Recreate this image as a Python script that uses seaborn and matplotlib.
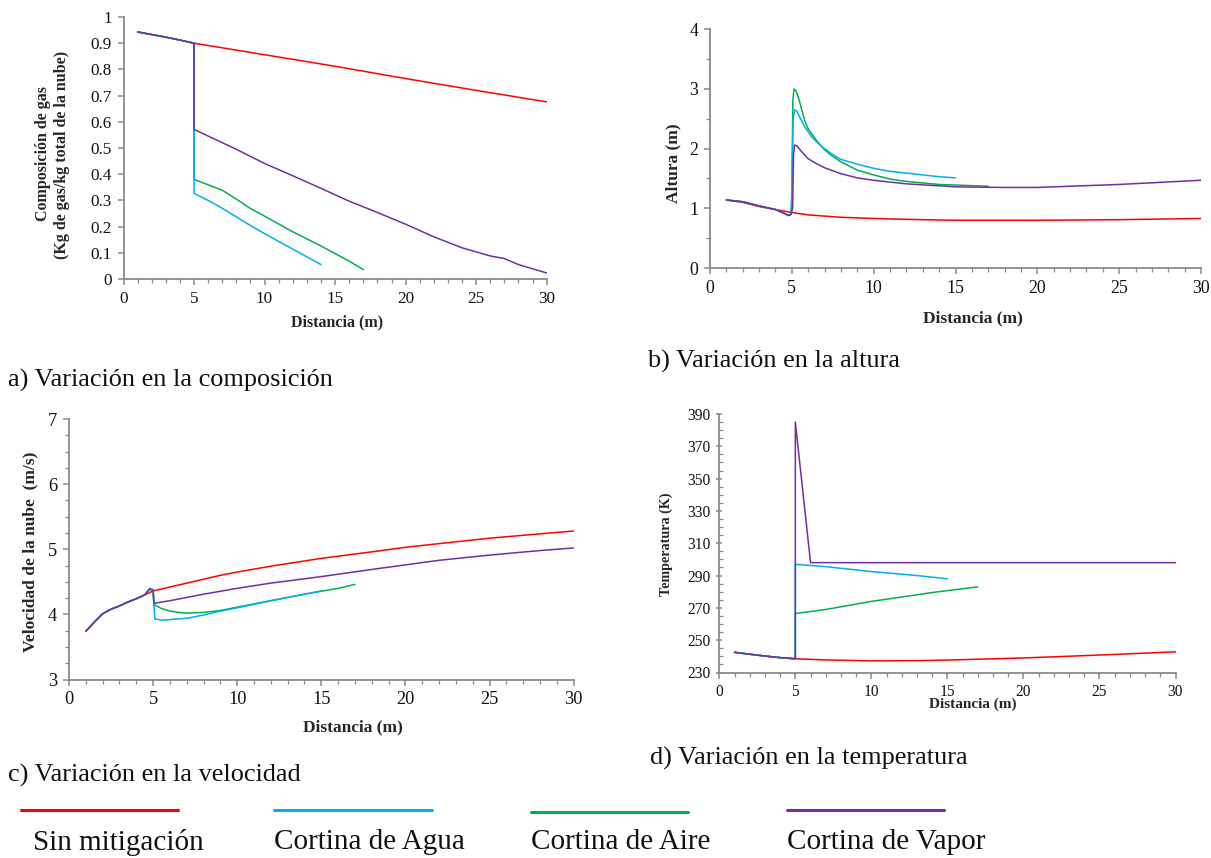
import numpy as np
import pandas as pd
import seaborn as sns
import matplotlib
matplotlib.use("Agg")
import matplotlib.pyplot as plt
from matplotlib.lines import Line2D
from matplotlib.ticker import MultipleLocator, FixedLocator, FuncFormatter

sns.set_style("white")
plt.rcParams["font.family"] = ["Liberation Serif", "DejaVu Serif"]

W, H = 1211, 858

# ---------------- series names and colours ----------------
series_names = ["Sin mitigación", "Cortina de Agua", "Cortina de Aire", "Cortina de Vapor"]
series_colors = ["#FF0000", "#00B0F0", "#00B050", "#7030A0"]

# ---------------- a) composición ----------------
comp_x_pre = [1, 2, 3, 4, 5]
comp_y_pre = [0.943, 0.933, 0.923, 0.912, 0.900]
comp_sin_x = [5, 10, 15, 20, 25, 30]
comp_sin_y = [0.900, 0.856, 0.812, 0.765, 0.720, 0.676]
comp_agua_x = [5, 5, 6, 7, 8, 9, 10, 12, 14]
comp_agua_y = [0.900, 0.327, 0.300, 0.270, 0.237, 0.204, 0.173, 0.114, 0.055]
comp_aire_x = [5, 5, 7, 8, 9, 10, 12, 14, 16, 17]
comp_aire_y = [0.900, 0.380, 0.339, 0.305, 0.269, 0.240, 0.180, 0.126, 0.068, 0.036]
comp_vapor_x = [5, 5, 8, 10, 12, 14, 16, 18, 20, 22, 24, 26, 27, 28, 30]
comp_vapor_y = [0.900, 0.571, 0.495, 0.441, 0.394, 0.346, 0.297, 0.254, 0.209,
                0.161, 0.119, 0.088, 0.078, 0.055, 0.023]

# ---------------- b) altura ----------------
alt_sin_x = [1, 2, 3, 4, 5, 6, 7, 8, 10, 12, 15, 18, 20, 25, 30]
alt_sin_y = [1.14, 1.10, 1.03, 0.98, 0.93, 0.89, 0.87, 0.85, 0.83, 0.815, 0.80, 0.80, 0.80, 0.81, 0.83]
alt_x_pre = [1, 2, 3, 4, 4.5, 4.8, 4.95]
alt_y_pre = [1.14, 1.11, 1.04, 0.98, 0.92, 0.88, 0.90]
alt_agua_x = [5.0, 5.08, 5.17, 5.3, 5.5, 5.8, 6.2, 6.6, 7, 7.5, 8, 9, 10, 11, 12, 13, 14, 15]
alt_agua_y = [1.30, 2.50, 2.65, 2.63, 2.52, 2.36, 2.20, 2.09, 2.00, 1.90, 1.82, 1.74, 1.67,
              1.62, 1.59, 1.56, 1.53, 1.51]
alt_aire_x = [5.0, 5.06, 5.13, 5.25, 5.4, 5.6, 5.8, 6, 6.5, 7, 7.5, 8, 9, 10, 11, 12, 14, 17]
alt_aire_y = [1.20, 2.80, 3.00, 2.97, 2.86, 2.66, 2.46, 2.33, 2.14, 1.98, 1.87, 1.78, 1.64,
              1.56, 1.49, 1.45, 1.40, 1.37]
alt_vapor_x = [5.05, 5.1, 5.17, 5.3, 5.5, 5.8, 6, 6.5, 7, 8, 9, 10, 12, 15, 18, 20, 25, 30]
alt_vapor_y = [1.00, 1.90, 2.06, 2.05, 1.98, 1.89, 1.83, 1.75, 1.68, 1.58, 1.51, 1.47, 1.41,
               1.36, 1.35, 1.35, 1.40, 1.47]

# ---------------- c) velocidad ----------------
vel_x_pre = [1, 1.5, 2, 2.5, 3, 3.5, 4, 4.5]
vel_y_pre = [3.74, 3.88, 4.01, 4.08, 4.13, 4.19, 4.24, 4.30]
vel_sin_x = [5, 6, 7, 8, 9, 10, 12, 15, 18, 20, 25, 30]
vel_sin_y = [4.36, 4.42, 4.48, 4.54, 4.60, 4.65, 4.74, 4.86, 4.96, 5.03, 5.17, 5.28]
vel_agua_x = [4.8, 5.0, 5.1, 5.5, 6, 7, 8, 9, 10, 12, 14, 15]
vel_agua_y = [4.40, 4.38, 3.93, 3.91, 3.92, 3.94, 3.99, 4.05, 4.10, 4.21, 4.31, 4.36]
vel_aire_x = [4.8, 5.0, 5.05, 5.5, 6, 6.5, 7, 8, 9, 10, 12, 14, 16, 17]
vel_aire_y = [4.39, 4.37, 4.15, 4.09, 4.05, 4.03, 4.02, 4.03, 4.06, 4.11, 4.21, 4.31, 4.40, 4.46]
vel_vapor_x = [4.8, 5.0, 5.05, 6, 8, 10, 12, 15, 18, 20, 22, 25, 28, 30]
vel_vapor_y = [4.39, 4.37, 4.17, 4.21, 4.31, 4.40, 4.48, 4.58, 4.69, 4.76, 4.83, 4.91, 4.98, 5.02]

# ---------------- d) temperatura ----------------
temp_x_pre = [1, 2, 3, 4, 5]
temp_y_pre = [242.5, 241.3, 240.2, 239.2, 238.5]
temp_sin_x = [5, 7, 10, 13, 15, 20, 25, 30]
temp_sin_y = [238.5, 237.8, 237.2, 237.3, 237.7, 239.0, 240.8, 242.8]
temp_agua_x = [5, 5, 7, 10, 13, 15]
temp_agua_y = [238.5, 297.0, 295.5, 292.5, 290.0, 288.0]
temp_aire_x = [5, 5, 7, 10, 14, 17]
temp_aire_y = [238.5, 266.5, 269.0, 274.0, 279.5, 283.0]
temp_vapor_x = [5, 5, 6, 30]
temp_vapor_y = [238.5, 385.0, 298.0, 298.0]

temp_ticks = [230, 250, 270, 290, 310, 330, 350, 370, 390]


def frame(xs, ys, name):
    return pd.DataFrame({"x": xs, "y": ys, "serie": name})


def build(pre_x, pre_y, sin, agua, aire, vapor):
    parts = [frame(pre_x + sin[0], pre_y + sin[1], series_names[0])]
    for name, (xs, ys) in zip(series_names[1:], [agua, aire, vapor]):
        parts.append(frame(pre_x + xs, pre_y + ys, name))
    return pd.concat(parts, ignore_index=True)


def rect(left, right, top, bottom):
    return [left / W, 1 - bottom / H, (right - left) / W, (bottom - top) / H]


def ftext(x, y, s, **kw):
    fig.text(x / W, 1 - y / H, s, ha=kw.pop("ha", "center"), va=kw.pop("va", "center"), **kw)


draw_order = [series_names[0], series_names[2], series_names[1], series_names[3]]
palette = dict(zip(series_names, series_colors))


def draw(ax, df):
    for name in draw_order:
        sub = df[df["serie"] == name]
        sns.lineplot(data=sub, x="x", y="y", sort=False, estimator=None,
                     color=palette[name], lw=1.1, ax=ax, legend=False)


def style(ax, ylim, ymajor, yminor, tick_size, yfmt, major_dir="out", yminor_dir="out"):
    ax.set_xlim(0, 30)
    ax.set_ylim(*ylim)
    ax.xaxis.set_major_locator(MultipleLocator(5))
    ax.xaxis.set_minor_locator(MultipleLocator(1))
    ax.yaxis.set_major_locator(ymajor)
    if yminor is not None:
        ax.yaxis.set_minor_locator(yminor)
    ax.yaxis.set_major_formatter(FuncFormatter(yfmt))
    for s in ["top", "right"]:
        ax.spines[s].set_visible(False)
    for s in ["left", "bottom"]:
        ax.spines[s].set_color("#8a8a8a")
        ax.spines[s].set_linewidth(1.3)
    ax.tick_params(which="major", direction="out", length=4.5, width=1.1,
                   color="#8a8a8a", labelsize=tick_size, labelcolor="#111111", pad=4,
                   bottom=True, left=True)
    ax.tick_params(axis="y", which="major", direction=major_dir)
    ax.tick_params(axis="x", which="minor", direction="out", length=3, width=0.9,
                   color="#8a8a8a", bottom=True)
    ax.tick_params(axis="y", which="minor", direction=yminor_dir, length=3, width=0.9,
                   color="#8a8a8a", left=True)
    ax.set_xlabel("")
    ax.set_ylabel("")
    ax.set_facecolor("white")


def fmt_comp(v, p):
    if abs(v) < 1e-9:
        return "0"
    if abs(v - 1) < 1e-9:
        return "1"
    return f"{v:.1f}"


def fmt_int(v, p):
    return f"{v:.0f}"


fig = plt.figure(figsize=(W / 100, H / 100), dpi=100)
fig.patch.set_facecolor("white")

# a) composición
ax_a = fig.add_axes(rect(123.5, 546.7, 17, 279))
df_a = build(comp_x_pre, comp_y_pre,
             (comp_sin_x, comp_sin_y), (comp_agua_x, comp_agua_y),
             (comp_aire_x, comp_aire_y), (comp_vapor_x, comp_vapor_y))
draw(ax_a, df_a)
style(ax_a, (0, 1), MultipleLocator(0.1), None, 12.3, fmt_comp)
ftext(337, 322, "Distancia (m)", fontsize=11.5, fontweight="bold")
ftext(43, 154, "Composición de gas", fontsize=11.5, fontweight="bold", rotation=90)
ftext(62, 155, "(Kg de gas/kg total de la nube)", fontsize=11.5, fontweight="bold", rotation=90)

# b) altura
ax_b = fig.add_axes(rect(710, 1201, 29.3, 268))
df_b = build([], [], (alt_sin_x, alt_sin_y),
             (alt_x_pre + alt_agua_x, alt_y_pre + alt_agua_y),
             (alt_x_pre + alt_aire_x, alt_y_pre + alt_aire_y),
             (alt_x_pre + alt_vapor_x, alt_y_pre + alt_vapor_y))
draw(ax_b, df_b)
style(ax_b, (0, 4), MultipleLocator(1), MultipleLocator(0.5), 12.8, fmt_int)
ftext(973, 318, "Distancia (m)", fontsize=12.5, fontweight="bold")
ftext(673, 163, "Altura (m)", fontsize=12.5, fontweight="bold", rotation=90)

# c) velocidad
ax_c = fig.add_axes(rect(69, 573.6, 419, 679.5))
df_c = build(vel_x_pre, vel_y_pre,
             (vel_sin_x, vel_sin_y), (vel_agua_x, vel_agua_y),
             (vel_aire_x, vel_aire_y), (vel_vapor_x, vel_vapor_y))
draw(ax_c, df_c)
style(ax_c, (3, 7), MultipleLocator(1), MultipleLocator(0.25), 13.2, fmt_int)
ftext(353, 727, "Distancia (m)", fontsize=12.5, fontweight="bold")
ftext(30, 552, "Velocidad de la nube  (m/s)", fontsize=12.5, fontweight="bold", rotation=90)

# d) temperatura
ax_d = fig.add_axes(rect(719.3, 1175.5, 414, 672.5))
df_d = build(temp_x_pre, temp_y_pre,
             (temp_sin_x, temp_sin_y), (temp_agua_x, temp_agua_y),
             (temp_aire_x, temp_aire_y), (temp_vapor_x, temp_vapor_y))
draw(ax_d, df_d)
style(ax_d, (230, 390), FixedLocator(temp_ticks),
      FixedLocator(np.arange(temp_ticks[0], temp_ticks[-1] + 1, 5)),
      11.2, fmt_int, major_dir="inout", yminor_dir="in")
ftext(973, 704, "Distancia (m)", fontsize=11, fontweight="bold")
ftext(666, 544, "Temperatura (K)", fontsize=10.2, fontweight="bold", rotation=90)

# panel captions
cap_kw = dict(fontsize=18.9, ha="left", color="#111111")
ftext(8, 380, "a) Variación en la composición", **cap_kw)
ftext(648, 361, "b) Variación en la altura", **cap_kw)
ftext(8, 775, "c) Variación en la velocidad", **cap_kw)
ftext(650, 758, "d) Variación en la temperatura", **cap_kw)

# legend drawn along the bottom of the figure
legend_x = [(21, 178, 33), (274, 432, 274), (531, 688, 531), (787, 944, 787)]
legend_line_y = [810, 810, 812, 810]
for (x0, x1, tx), ly, name, col in zip(legend_x, legend_line_y, series_names, series_colors):
    fig.add_artist(Line2D([x0 / W, x1 / W], [1 - ly / H, 1 - ly / H],
                          color=col, lw=2.2, transform=fig.transFigure))
    ftext(tx, 842, name, fontsize=21, ha="left", color="#111111")

fig.savefig("out.png", dpi=100, facecolor="white")
